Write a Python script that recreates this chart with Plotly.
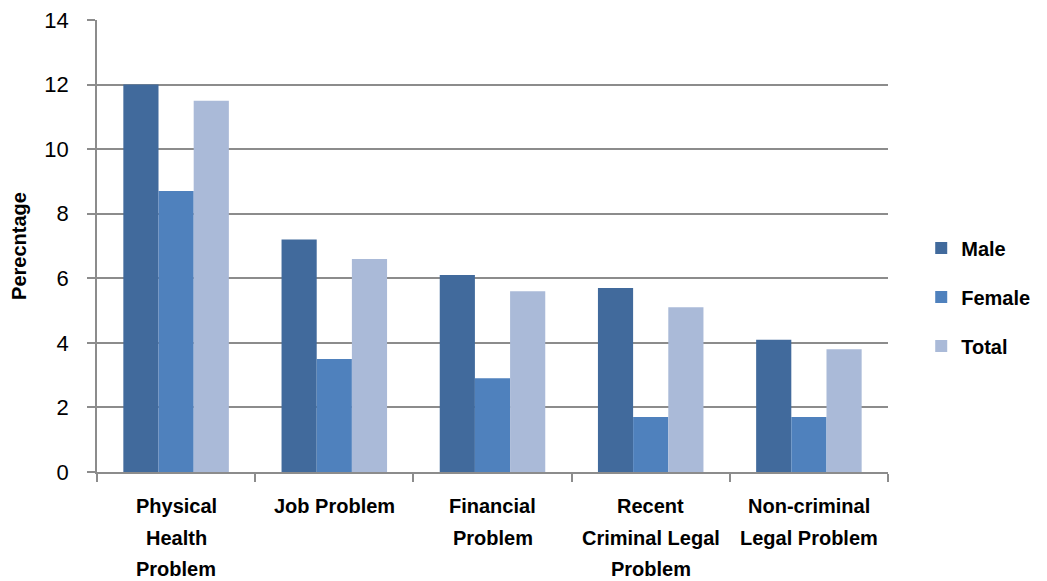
import plotly.graph_objects as go

categories = ["Physical Health Problem", "Job Problem", "Financial Problem",
              "Recent Criminal Legal Problem", "Non-criminal Legal Problem"]
category_lines = [["Physical", "Health", "Problem"], ["Job Problem"],
                  ["Financial", "Problem"], ["Recent", "Criminal Legal", "Problem"],
                  ["Non-criminal", "Legal Problem"]]
male = [12.0, 7.2, 6.1, 5.7, 4.1]
female = [8.7, 3.5, 2.9, 1.7, 1.7]
total = [11.5, 6.6, 5.6, 5.1, 3.8]
series_names = ["Male", "Female", "Total"]
colors = ["#416A9C", "#4F81BD", "#AABAD8"]
y_ticks = [0, 2, 4, 6, 8, 10, 12, 14]

FONT = "Liberation Sans"

fig = go.Figure()
for i, (name, vals) in enumerate(zip(series_names, [male, female, total])):
    fig.add_trace(go.Bar(x=categories, y=vals, name="<b>%s</b>" % name,
                         marker_color=colors[i],
                         marker_line_width=0, legendgroup=name))

for cat, lines in zip(categories, category_lines):
    for j, line in enumerate(lines):
        fig.add_annotation(x=cat, y=0, xref="x", yref="y", text="<b>%s</b>" % line,
                           showarrow=False, yanchor="middle", xanchor="center",
                           yshift=-(34 + 31.5 * j),
                           font=dict(family=FONT, size=20, color="#000000"))

fig.update_layout(
    width=1047, height=581,
    margin=dict(l=97, r=159, t=20, b=109, autoexpand=False),
    paper_bgcolor="white", plot_bgcolor="white",
    barmode="group", bargap=0.333, bargroupgap=0,
    font=dict(family=FONT, size=18, color="#000000"),
    showlegend=True,
    legend=dict(x=1.042, y=0.387, xanchor="left", yanchor="middle",
                traceorder="grouped", tracegroupgap=20,
                font=dict(family=FONT, size=20, color="#000000"),
                itemwidth=30),
)
fig.update_xaxes(showticklabels=False, ticks="outside", tickson="boundaries",
                 ticklen=8, tickcolor="#8C8C8C", tickwidth=1.5,
                 showline=True, linecolor="#8C8C8C", linewidth=1.5,
                 showgrid=False, automargin=False)
fig.update_yaxes(range=[0, 14], tickvals=y_ticks, ticks="outside", ticklen=8,
                 tickcolor="#8C8C8C", tickwidth=1.5,
                 showline=True, linecolor="#8C8C8C", linewidth=1.5,
                 showgrid=True, gridcolor="#8C8C8C", gridwidth=1.5,
                 zeroline=False, ticklabelstandoff=14, automargin=False,
                 tickfont=dict(family=FONT, size=22, color="#000000"),
                 title=dict(text="<b>Perecntage</b>", standoff=12,
                            font=dict(family=FONT, size=20, color="#000000")))

fig.write_html("out.html")
